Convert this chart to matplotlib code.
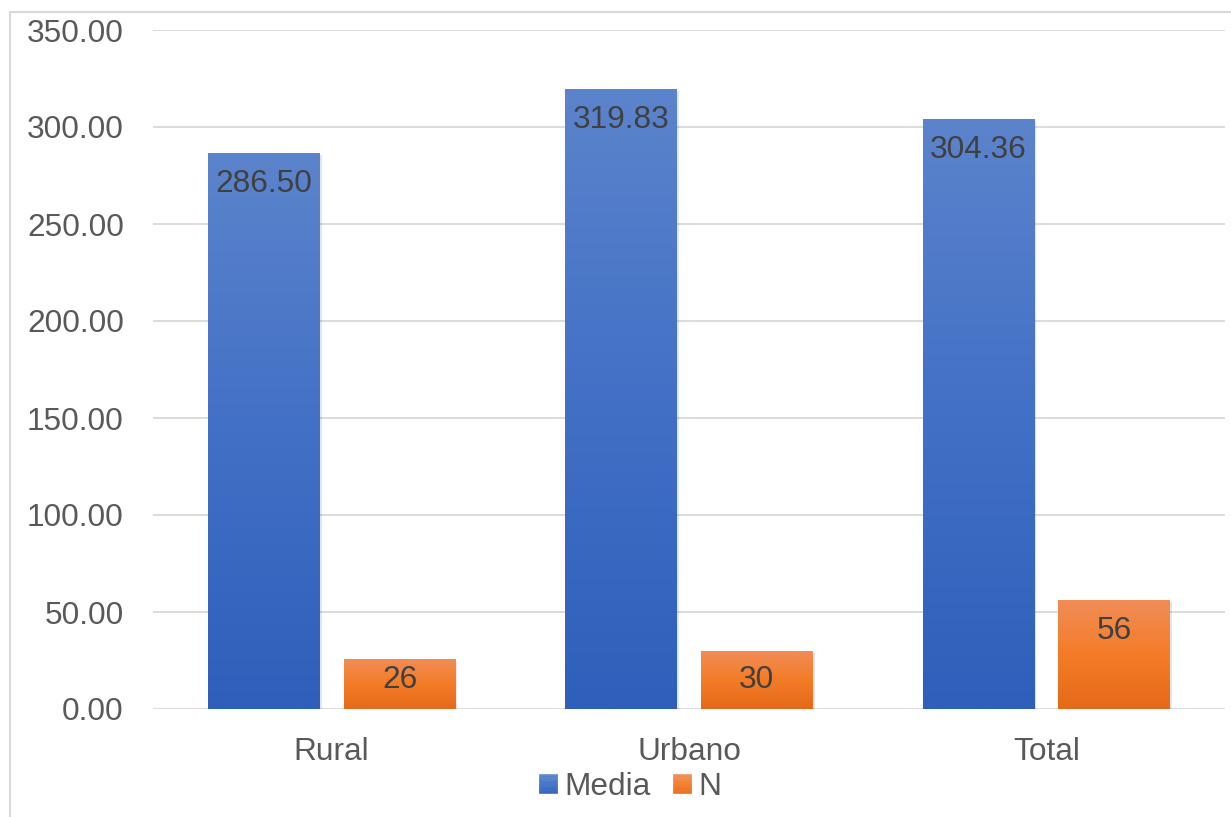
import numpy as np
import matplotlib
matplotlib.use('Agg')
import matplotlib.pyplot as plt
from matplotlib.colors import LinearSegmentedColormap
from matplotlib.patches import Rectangle
from matplotlib.legend_handler import HandlerBase
import matplotlib.transforms as mtransforms

categories = ['Rural', 'Urbano', 'Total']
media = [286.50, 319.83, 304.36]
n_vals = [26, 30, 56]
media_labels = ['286.50', '319.83', '304.36']
n_labels = ['26', '30', '56']
yticks = [0, 50, 100, 150, 200, 250, 300, 350]
series_names = ['Media', 'N']

plt.rcParams['font.family'] = ['Liberation Sans', 'DejaVu Sans']

W, H = 1231, 817
fig = plt.figure(figsize=(W / 100, H / 100), dpi=100)
ax = fig.add_axes([153 / W, 108 / H, 1072 / W, 679 / H])

blue_stops = ['#2E5FBA', '#4270C6', '#5C84CC']   # bottom -> top
orange_stops = ['#E5691A', '#F47C27', '#F18D58']

FS = 22.8
TICK_C = '#595959'
LBL_C = '#404040'
GRID_C = '#D9D9D9'

bar_w = 0.313
offset = 0.19

shadow_tr = mtransforms.ScaledTranslation(2 / 100, -2 / 100, fig.dpi_scale_trans)


def gradient_bar(x, h, stops):
    cmap = LinearSegmentedColormap.from_list('g', stops)
    bar = ax.bar(x, h, bar_w, color=stops[1], zorder=3, linewidth=0)[0]
    grad = np.linspace(0, 1, 256).reshape(-1, 1)
    im = ax.imshow(grad, cmap=cmap, extent=[x - bar_w / 2, x + bar_w / 2, 0, h],
                   origin='lower', aspect='auto', zorder=3.1, interpolation='bilinear')
    im.set_clip_path(bar)
    sh = Rectangle((x - bar_w / 2, 0), bar_w, h, transform=ax.transData + shadow_tr,
                   facecolor='#000000', alpha=0.10, linewidth=0, zorder=2.9)
    ax.add_patch(sh)
    return bar


xs = np.arange(len(categories))
for i, x in enumerate(xs):
    gradient_bar(x - offset, media[i], blue_stops)
    gradient_bar(x + offset, n_vals[i], orange_stops)
    for xx, v, s in ((x - offset, media[i], media_labels[i]), (x + offset, n_vals[i], n_labels[i])):
        ax.text(xx, max(v - 16, 15), s, ha='center', va='center', fontsize=FS,
                color=LBL_C, zorder=5)

ax.set_xlim(-0.5, len(categories) - 0.5)
ax.set_ylim(0, 350)
ax.set_yticks(yticks)
ax.set_yticklabels([f'{t:.2f}' for t in yticks])
ax.set_xticks(xs)
ax.set_xticklabels(categories)
ax.tick_params(axis='both', length=0, labelsize=FS, colors=TICK_C)
ax.tick_params(axis='y', pad=21)
ax.tick_params(axis='x', pad=20)
for s in ax.spines.values():
    s.set_visible(False)
ax.yaxis.grid(True, color=GRID_C, linewidth=1.3, zorder=0)
ax.set_axisbelow(True)


class GradHandler(HandlerBase):
    def __init__(self, stops):
        super().__init__()
        self.cmap = LinearSegmentedColormap.from_list('g', stops)

    def create_artists(self, legend, orig_handle, xdescent, ydescent, width, height, fontsize, trans):
        n = 16
        arts = []
        for k in range(n):
            c = self.cmap((k + 0.5) / n)
            r = Rectangle((-xdescent, -ydescent + height * k / n), width, height / n,
                          facecolor=c, edgecolor=c, linewidth=0.4, transform=trans)
            arts.append(r)
        return arts


p1 = Rectangle((0, 0), 1, 1, facecolor=blue_stops[1])
p2 = Rectangle((0, 0), 1, 1, facecolor=orange_stops[1])
leg = fig.legend([p1, p2], series_names, loc='center', bbox_to_anchor=(630.5 / W, 30 / H),
                 ncol=2, frameon=False, fontsize=FS, handlelength=0.55, handleheight=0.55,
                 handletextpad=0.25, columnspacing=0.7,
                 handler_map={p1: GradHandler(blue_stops), p2: GradHandler(orange_stops)})
for t in leg.get_texts():
    t.set_color(TICK_C)

border = Rectangle((10 / W, -0.1), 1.2, (H - 12) / H + 0.1, transform=fig.transFigure,
                   fill=False, edgecolor=GRID_C, linewidth=1.5, clip_on=False)
fig.add_artist(border)

fig.savefig('out.png', dpi=100)
